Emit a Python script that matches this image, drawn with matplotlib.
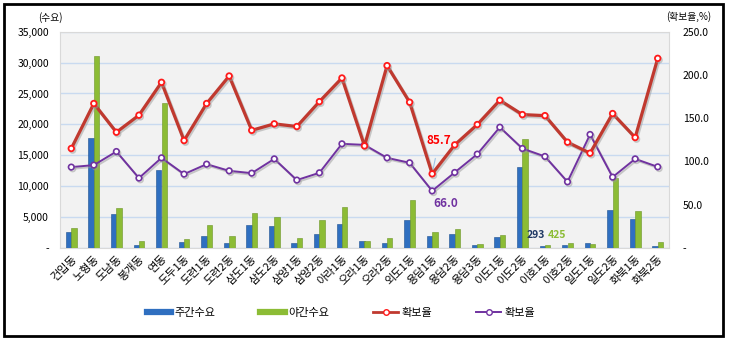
import matplotlib
matplotlib.use("Agg")
import matplotlib.pyplot as plt
import matplotlib.patheffects as pe
from matplotlib.lines import Line2D
from matplotlib.patches import Rectangle
from matplotlib.ticker import FixedLocator, FuncFormatter
import numpy as np

plt.rcParams['font.family'] = ['Noto Sans CJK KR', 'DejaVu Sans']

districts = ['건입동', '노형동', '도남동', '봉개동', '연동', '도두1동', '도련1동', '도련2동',
             '삼도1동', '삼도2동', '삼양1동', '삼양2동', '아라1동', '오라1동', '오라2동',
             '외도1동', '용담1동', '용담2동', '용담3동', '이도1동', '이도2동', '이호1동',
             '이호2동', '일도1동', '일도2동', '화북1동', '화북2동']

day_demand = [2530, 17740, 5430, 540, 12690, 970, 2000, 750, 3660, 3500, 750, 2260,
              3870, 1080, 800, 4500, 2000, 2300, 480, 1720, 13170, 293, 480, 800,
              6080, 4680, 320]
night_demand = [3170, 31070, 6450, 1130, 23390, 1400, 3660, 2000, 5700, 4950, 1560, 4520,
                6560, 1080, 1670, 7800, 2580, 3060, 650, 2150, 17580, 425, 800, 650,
                11340, 5910, 910]
rate_red = [115.0, 167.0, 133.8, 153.5, 191.5, 124.2, 167.0, 198.8, 136.0, 143.5, 140.4,
            169.2, 196.5, 118.0, 210.8, 168.5, 85.7, 119.2, 142.7, 170.8, 154.2, 153.0,
            122.3, 109.6, 155.4, 127.7, 219.2]
rate_purple = [93.5, 95.8, 111.5, 80.8, 104.2, 85.4, 96.9, 89.2, 86.5, 103.0, 78.5, 86.9,
               120.4, 119.2, 104.2, 98.5, 66.0, 87.3, 108.5, 139.6, 115.0, 105.8, 76.5,
               131.2, 81.9, 103.0, 93.8]

left_ticks = [0, 5000, 10000, 15000, 20000, 25000, 30000, 35000]
right_ticks = [0, 50, 100, 150, 200, 250]

W, H = 730, 342
fig = plt.figure(figsize=(W / 100, H / 100), dpi=100)
fig.patch.set_facecolor('white')

ax = fig.add_axes([60 / W, 1 - 248 / H, (669 - 60) / W, (248 - 31.7) / H])
ax.set_facecolor('#f2f2f2')
ax2 = ax.twinx()

x = np.arange(len(districts))
bw = 0.24
blue = '#2f6fc0'
green = '#8cbc35'
ax.bar(x - bw / 2, day_demand, width=bw, color=blue, edgecolor='#1c4f8f', linewidth=0.4, zorder=3)
ax.bar(x + bw / 2, night_demand, width=bw, color=green, edgecolor='#6c9526', linewidth=0.4, zorder=3)

ax.set_xlim(-0.5, len(districts) - 0.5)
ax.set_ylim(0, 35000)
ax.yaxis.set_major_locator(FixedLocator(left_ticks))
ax.yaxis.set_major_formatter(FuncFormatter(lambda v, p: '-' if v == 0 else f'{int(v):,}'))
ax.grid(axis='y', color='#c9daf0', linewidth=1.0, zorder=0)
ax.set_axisbelow(True)
ax.set_xticks(x)
ax.set_xticklabels(districts, rotation=45, ha='right', rotation_mode='anchor', fontsize=8)
ax.tick_params(axis='x', length=0, pad=4)
ax.tick_params(axis='y', length=0, labelsize=7.5, pad=8)
for s in ax.spines.values():
    s.set_color('#d9d9d9')
    s.set_linewidth(0.8)

shadow = [pe.SimpleLineShadow(offset=(1, -1.2), shadow_color='#9a9a9a', alpha=0.5), pe.Normal()]
red_line, = ax2.plot(x, rate_red, color='#c0392f', linewidth=2.3, marker='o', markersize=4,
                     markerfacecolor='white', markeredgecolor='#ff1a1a', markeredgewidth=1.3,
                     zorder=5, path_effects=shadow)
purple_line, = ax2.plot(x, rate_purple, color='#7032a0', linewidth=1.4, marker='o', markersize=4,
                        markerfacecolor='white', markeredgecolor='#7032a0', markeredgewidth=1.2,
                        zorder=4, path_effects=shadow)
ax2.set_ylim(0, 250)
ax2.yaxis.set_major_locator(FixedLocator(right_ticks))
ax2.yaxis.set_major_formatter(FuncFormatter(lambda v, p: '-' if v == 0 else f'{v:.1f}'))
ax2.tick_params(axis='y', length=0, labelsize=7.5, pad=10)
for s in ax2.spines.values():
    s.set_visible(False)

# value callouts
i_min = 16
ax2.annotate(f'{rate_red[i_min]:.1f}', xy=(x[i_min], rate_red[i_min]),
             xytext=(x[i_min] + 0.3, rate_red[i_min] + 38), color='#ff0000', fontsize=8.5,
             fontweight='bold', ha='center', va='center',
             arrowprops=dict(arrowstyle='-', color='#9dc3e6', lw=0.8, shrinkA=6, shrinkB=3))
ax2.text(x[i_min] + 0.6, rate_purple[i_min] - 15, f'{rate_purple[i_min]:.1f}', color='#7032a0',
         fontsize=8.5, fontweight='bold', ha='center', va='center')
i_small = 21
ax.text(x[i_small] + 0.02, 2100, f'{day_demand[i_small]}', color='#1f3864', fontsize=7.5,
        fontweight='bold', ha='right', va='center')
ax.text(x[i_small] + 0.12, 2100, f'{night_demand[i_small]}', color='#8cbc35', fontsize=7.5,
        fontweight='bold', ha='left', va='center')

fig.text(50 / W, 1 - 18 / H, '(수요)', fontsize=7, ha='center', va='center')
fig.text(689 / W, 1 - 17 / H, '(확보율,%)', fontsize=7, ha='center', va='center')

handles = [Line2D([], [], color=blue, linewidth=4.5),
           Line2D([], [], color=green, linewidth=4.5),
           Line2D([], [], color='#c0392f', linewidth=2, marker='o', markersize=4,
                  markerfacecolor='white', markeredgecolor='#ff1a1a'),
           Line2D([], [], color='#7032a0', linewidth=1.4, marker='o', markersize=4,
                  markerfacecolor='white', markeredgecolor='#7032a0')]
labels = ['주간수요', '야간수요', '확보율', '확보율']
fig.legend(handles, labels, loc='center', bbox_to_anchor=(0.467, 1 - 313 / H), ncol=4,
           frameon=False, fontsize=8, handlelength=2.2, handletextpad=0.3, columnspacing=4.0)

fig.add_artist(Rectangle((4 / W, 1 - 336 / H), 719 / W, 332 / H, transform=fig.transFigure,
                         fill=False, edgecolor='black', linewidth=2))

fig.savefig('out.png', dpi=100)
